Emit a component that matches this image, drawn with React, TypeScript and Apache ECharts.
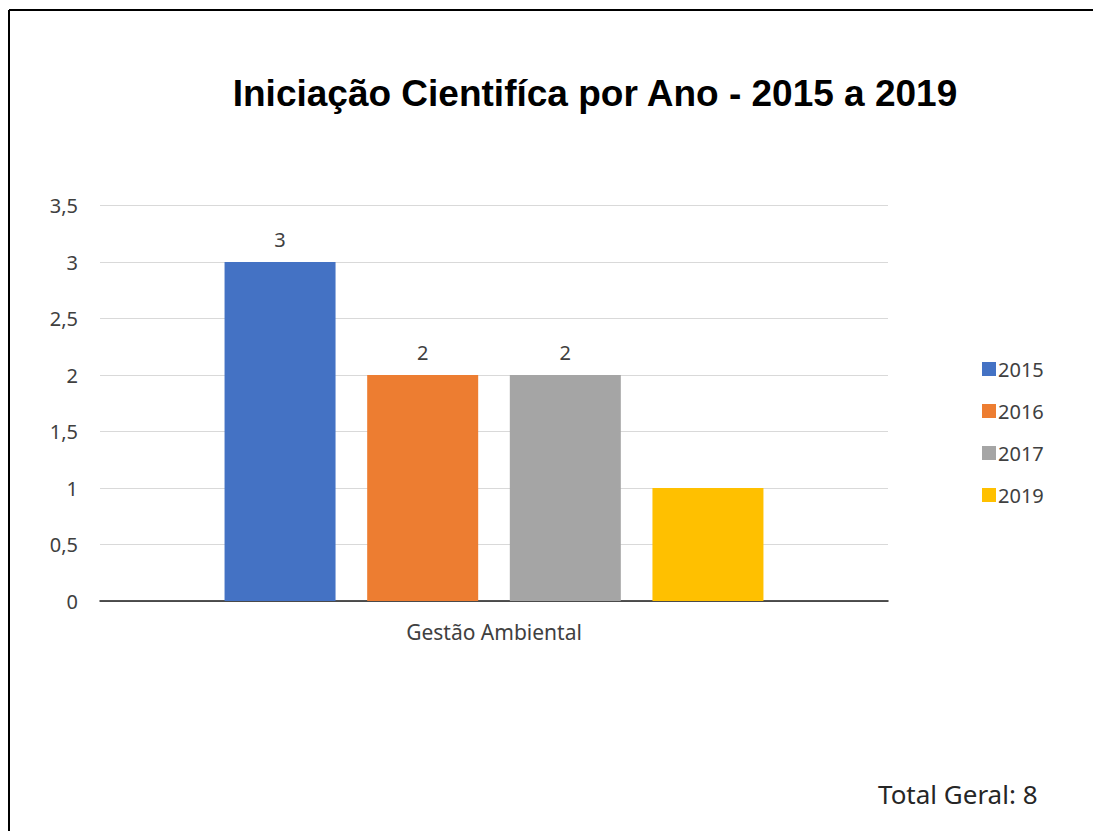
import React, { useEffect, useRef } from "react";
import * as echarts from "echarts";

const categories = ["Gestão Ambiental"];
const years = ["2015", "2016", "2017", "2019"];
const values = [3, 2, 2, 1];
const colors = ["#4472C4", "#ED7D31", "#A5A5A5", "#FFC000"];
const titleText = "Iniciação Cientifíca por Ano - 2015 a 2019";
const totalText = "Total Geral: 8";

const FONT = "'Noto Sans', 'Open Sans', sans-serif";

export default function App() {
  const ref = useRef<HTMLDivElement>(null);
  useEffect(() => {
    if (!ref.current) return;
    const chart = echarts.init(ref.current, undefined, { renderer: "svg" });
    chart.setOption({
      animation: false,
      backgroundColor: "#ffffff",
      title: {
        text: titleText,
        left: 590,
        textAlign: "center",
        top: 70,
        textStyle: {
          fontFamily: "'Liberation Sans', Arial, sans-serif",
          fontWeight: "bold",
          fontSize: 37,
          color: "#000000",
        },
      },
      legend: {
        orient: "vertical",
        left: 977,
        top: 354,
        itemWidth: 14,
        itemHeight: 14,
        itemGap: 22,
        icon: "rect",
        textStyle: { fontFamily: FONT, fontSize: 20, color: "#404040", padding: [0, 0, 0, -3] },
        data: years,
      },
      grid: { left: 100, right: 205, top: 205.5, bottom: 230, containLabel: false },
      xAxis: {
        type: "category",
        data: categories,
        axisTick: { show: false },
        axisLine: { lineStyle: { color: "#1a1a1a", width: 1.5 } },
        axisLabel: { fontFamily: FONT, fontSize: 21, color: "#404040", margin: 20 },
      },
      yAxis: {
        type: "value",
        min: 0,
        max: 3.5,
        interval: 0.5,
        axisLine: { show: false },
        axisTick: { show: false },
        splitLine: { lineStyle: { color: "#d9d9d9", width: 1 } },
        axisLabel: {
          fontFamily: FONT,
          fontSize: 20,
          color: "#404040",
          margin: 22,
          formatter: (v: number) => String(v).replace(".", ","),
        },
      },
      series: years.map((y, i) => ({
        name: y,
        type: "bar",
        data: [values[i]],
        barWidth: 111,
        barGap: "28.5%",
        itemStyle: { color: colors[i] },
        label: {
          show: i < 3,
          position: "top",
          distance: 13,
          fontFamily: FONT,
          fontSize: 20,
          color: "#404040",
        },
      })),
      graphic: [
        {
          type: "line",
          shape: { x1: 9, y1: 10, x2: 1093, y2: 10 },
          style: { stroke: "#000000", lineWidth: 2 },
        },
        {
          type: "line",
          shape: { x1: 9, y1: 10, x2: 9, y2: 831 },
          style: { stroke: "#000000", lineWidth: 2 },
        },
        {
          type: "text",
          left: 878,
          top: 781,
          style: {
            text: totalText,
            font: `26px ${FONT}`,
            fill: "#262626",
          },
        },
      ],
    });
    return () => chart.dispose();
  }, []);
  return (
    <div
      ref={ref}
      style={{ position: "absolute", left: 0, top: 0, width: 1093, height: 831 }}
    />
  );
}
